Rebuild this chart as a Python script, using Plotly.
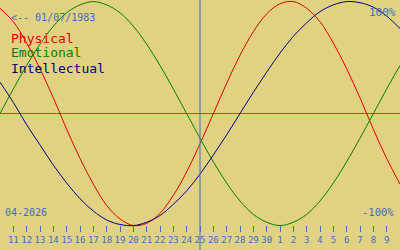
import plotly.graph_objects as go
import pandas as pd

# Biorhythm values (percent) for each day, 2026-04-10 .. 2026-05-10
dates = pd.date_range("2026-04-10", "2026-05-10", freq="D")
physical = [94, 82, 63, 40, 14, -14, -40, -63, -82, -94, -100, -98, -89, -73, -52, -27,
            0, 27, 52, 73, 89, 98, 100, 94, 82, 63, 40, 14, -14, -40, -63]
emotional = [0, 22, 43, 62, 78, 90, 97, 100, 97, 90, 78, 62, 43, 22, 0, -22,
             -43, -62, -78, -90, -97, -100, -97, -90, -78, -62, -43, -22, 0, 22, 43]
intellectual = [28, 10, -10, -28, -46, -62, -76, -87, -95, -99, -100, -97, -91, -81, -69, -54,
                -37, -19, 0, 19, 37, 54, 69, 81, 91, 97, 100, 99, 95, 87, 76]

tick_dates = pd.date_range("2026-04-11", "2026-05-09", freq="D")
tick_labels = [str(d.day) for d in tick_dates]
today = "2026-04-25"
birth_label = "<-- 01/07/1983"
month_label = "04-2026"

BG = "#e0d282"
BLUE = "#3c6ec4"
FONT = "DejaVu Sans Mono"

fig = go.Figure()
for name, vals, col in [("Physical", physical, "#e00000"),
                        ("Emotional", emotional, "#008000"),
                        ("Intellectual", intellectual, "#000080")]:
    fig.add_trace(go.Scatter(x=dates, y=vals, mode="lines", name=name,
                             line=dict(color=col, width=1, shape="spline", smoothing=1.0),
                             hoverinfo="skip"))

fig.add_vline(x=today, line=dict(color=BLUE, width=1))

fig.update_layout(
    width=400, height=250, margin=dict(l=0, r=0, t=0, b=0),
    paper_bgcolor=BG, plot_bgcolor=BG, showlegend=False,
    xaxis=dict(range=["2026-04-10", "2026-05-10"], showgrid=False, zeroline=False,
               showline=False, tickmode="array", tickvals=tick_dates, ticktext=tick_labels,
               ticks="outside", ticklen=6, tickwidth=1, tickcolor=BLUE,
               tickfont=dict(family=FONT, size=9, color=BLUE),
               anchor="free", position=0.1),
    yaxis=dict(range=[-121.8, 101.4], showgrid=False, showticklabels=False,
               zeroline=True, zerolinecolor=BLUE, zerolinewidth=1, showline=False,
               domain=[0, 1]),
)

def ann(text, px, py, xanchor, size, color):
    fig.add_annotation(text=text, x=px / 400, y=1 - py / 250, xref="paper", yref="paper",
                       xanchor=xanchor, yanchor="middle", showarrow=False,
                       font=dict(family=FONT, size=size, color=color), borderpad=0)

ann(birth_label, 10, 17, "left", 10, BLUE)
ann("Physical", 10, 38, "left", 13, "#e00000")
ann("Emotional", 10, 53, "left", 13, "#008000")
ann("Intellectual", 10, 68, "left", 13, "#000080")
ann("100%", 397, 12, "right", 11, BLUE)
ann("-100%", 395, 212, "right", 10.5, BLUE)
ann(month_label, 4, 212, "left", 10, BLUE)

fig.write_html("out.html")
